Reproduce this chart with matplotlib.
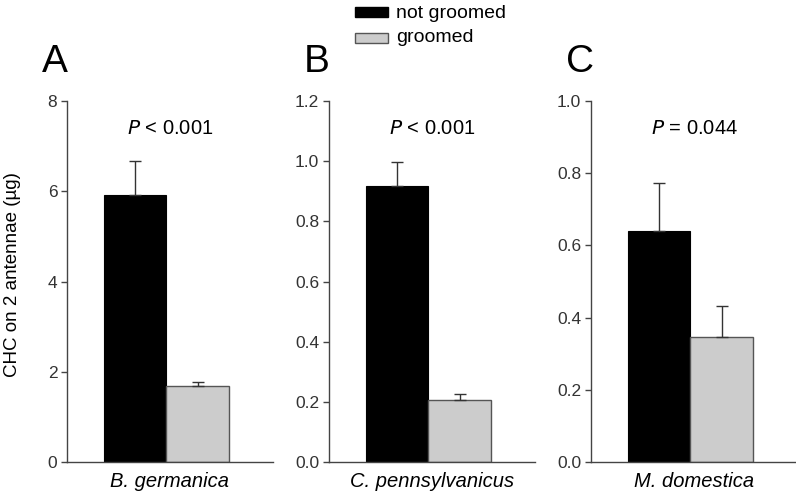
import numpy as np
import matplotlib.pyplot as plt
from matplotlib.patches import Rectangle

plt.rcParams['font.family'] = ['Liberation Sans', 'DejaVu Sans']

species = ["B. germanica", "C. pennsylvanicus", "M. domestica"]
letters = ["A", "B", "C"]
not_groomed = [5.92, 0.917, 0.64]
not_groomed_err = [0.75, 0.08, 0.133]
groomed = [1.68, 0.206, 0.346]
groomed_err = [0.09, 0.02, 0.086]
p_texts = ["< 0.001", "< 0.001", "= 0.044"]
ymax = [8, 1.2, 1.0]
yticks = [[0, 2, 4, 6, 8], [0.0, 0.2, 0.4, 0.6, 0.8, 1.0, 1.2], [0.0, 0.2, 0.4, 0.6, 0.8, 1.0]]
ytick_fmt = ["{:.0f}", "{:.1f}", "{:.1f}"]

fig = plt.figure(figsize=(7.96, 4.94), dpi=100)
lefts = [67, 329, 591]
axes = []
for i in range(3):
    ax = fig.add_axes([lefts[i] / 796, 32 / 494, 206 / 796, 361 / 494])
    axes.append(ax)
    ax.bar(0, not_groomed[i], width=1, color="black", edgecolor="black", linewidth=0.8)
    ax.bar(1, groomed[i], width=1, color="#cccccc", edgecolor="#555555", linewidth=1.0)
    ax.errorbar(0, not_groomed[i], yerr=[[0], [not_groomed_err[i]]], fmt="none",
                ecolor="#333333", elinewidth=1, capsize=4, capthick=1)
    ax.errorbar(1, groomed[i], yerr=[[0], [groomed_err[i]]], fmt="none",
                ecolor="#333333", elinewidth=1, capsize=4, capthick=1)
    ax.set_xlim(-1.087, 2.2)
    ax.set_ylim(0, ymax[i])
    ax.set_yticks(yticks[i])
    ax.set_yticklabels([ytick_fmt[i].format(t) for t in yticks[i]], fontsize=12.5, color="#333333")
    ax.set_xticks([])
    for s in ["top", "right"]:
        ax.spines[s].set_visible(False)
    for s in ["left", "bottom"]:
        ax.spines[s].set_color("#444444")
        ax.spines[s].set_linewidth(1.0)
    ax.tick_params(axis="y", direction="out", length=4, width=1, color="#444444", pad=3)
    ax.set_xlabel(species[i], fontsize=14.5, style="italic", labelpad=7)
    ax.text(0.5, 0.925, "$\\mathit{P}$ " + p_texts[i], transform=ax.transAxes,
            ha="center", va="center", fontsize=14.5)
    fig.text((lefts[i] - 25) / 796, 1 - 62 / 494, letters[i], fontsize=28,
             ha="left", va="center")

axes[0].set_ylabel("CHC on 2 antennae (µg)", fontsize=13.5)
axes[0].yaxis.set_label_coords(-0.222, 0.52)

# legend
fig.patches.append(Rectangle((355 / 796, 1 - 17 / 494), 33 / 796, 10 / 494,
                             transform=fig.transFigure, facecolor="black", edgecolor="black"))
fig.patches.append(Rectangle((355 / 796, 1 - 43 / 494), 33 / 796, 10 / 494,
                             transform=fig.transFigure, facecolor="#cccccc", edgecolor="#555555"))
fig.text(396 / 796, 1 - 13 / 494, "not groomed", fontsize=14, va="center")
fig.text(396 / 796, 1 - 38 / 494, "groomed", fontsize=14, va="center")

plt.savefig("out.png", dpi=100)
